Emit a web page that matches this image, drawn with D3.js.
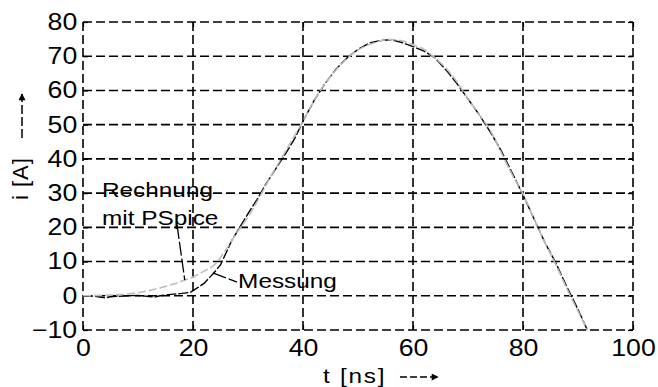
<!DOCTYPE html>
<html>
<head>
<meta charset="utf-8">
<script src="https://cdn.jsdelivr.net/npm/d3@7"></script>
<style>
    body { margin: 0; background: #fff; }
    svg { display: block; font-family: "Liberation Sans", Arial, sans-serif; }
</style>
</head>
<body>
<div id="graph"></div>
<script>
const xTicks = [0, 20, 40, 60, 80, 100];
const yTicks = [-10, 0, 10, 20, 30, 40, 50, 60, 70, 80];

// Rechnung mit PSpice: [t in ns, i in A]
const pspice = [
    [0, 0], [5, 0.2], [8, 0.5], [10, 0.9], [12, 1.5], [14, 2.3], [16, 3.2], [18, 4.3],
    [20, 5.5], [22, 7.2], [24, 9.2], [26, 13.5], [28, 18.5], [30, 23], [32, 28.5],
    [34, 34.5], [36, 40], [38, 45.5], [40, 51], [42, 57], [44, 62], [46, 66],
    [48, 69.3], [50, 71.8], [52, 73.4], [54, 74.4], [56, 74.9], [58, 74.5], [60, 73.4],
    [62, 72], [64, 69.5], [66, 66.5], [68, 62.5], [70, 57.5], [72, 53], [74, 48.5],
    [76, 42], [78, 35.5], [80, 29.8], [82, 22.5], [84, 15.5], [86, 9], [88, 2],
    [90, -4.5], [91.8, -10]
];

// Messung: [t in ns, i in A]
const messung = [
    [0, 0], [2, -0.1], [4, -0.6], [5, -0.3], [8, 0], [10, 0.1], [12, -0.2], [13, -0.4],
    [14, 0], [16, 0.4], [18, 0.7], [19.5, 1], [20.5, 2], [22, 3.6], [23.7, 6.5],
    [25, 9], [26, 12.5], [27, 16], [28.5, 20], [30, 24], [31.6, 28], [33, 32],
    [34.6, 36], [36, 39.5], [37, 42], [38.5, 46], [40, 51], [42, 57], [44, 62],
    [46, 66.2], [48, 69.5], [50, 72], [52, 73.8], [54, 74.6], [56, 74.8], [58, 74],
    [60, 72.8], [62, 71.5], [64, 69.5], [66, 66], [68, 62], [70, 57.5], [72, 53],
    [74, 48], [76, 42.5], [78, 36], [80, 29.5], [82, 22.5], [84, 15.5], [86, 9.5],
    [88, 2.5], [90, -4], [91.7, -10]
];

// labels and leader lines, anchored in data units
const labels = [
    { text: "Rechnung", t: 3.45, i: 28.9 },
    { text: "mit PSpice", t: 3.45, i: 20.7 },
    { text: "Messung", t: 28.2, i: 2.3 }
];
const leaders = [
    [[17.1, 20.7], [18.5, 4.6]],
    [[23.6, 6.7], [28, 4.0]]
];

const width = 658, height = 387;
const margin = { top: 22, right: 25, bottom: 57, left: 83 };
const stretch = 1.16; // the reference text is a bit wide

const svg = d3.select("#graph")
    .append("svg")
    .attr("width", width)
    .attr("height", height);

svg.append("defs").append("marker")
    .attr("id", "head")
    .attr("viewBox", "0 0 10 10")
    .attr("refX", 9).attr("refY", 5)
    .attr("markerWidth", 8).attr("markerHeight", 7)
    .attr("markerUnits", "userSpaceOnUse")
    .attr("orient", "auto")
    .append("path")
    .attr("d", "M0,0 L10,5 L0,10 Z")
    .attr("fill", "#000");

const x = d3.scaleLinear()
    .domain([0, 100])
    .range([margin.left, width - margin.right]);
const y = d3.scaleLinear()
    .domain([-10, 80])
    .range([height - margin.bottom, margin.top]);

// dashed grid, the outer frame is dashed too
const grid = svg.append("g")
    .attr("stroke", "#000")
    .attr("stroke-width", 1.6)
    .attr("stroke-dasharray", "9,4");
grid.selectAll(".vgrid")
    .data(xTicks)
    .enter().append("line")
    .attr("x1", d => x(d)).attr("x2", d => x(d))
    .attr("y1", y(-10)).attr("y2", y(80));
grid.selectAll(".hgrid")
    .data(yTicks)
    .enter().append("line")
    .attr("x1", x(0)).attr("x2", x(100))
    .attr("y1", d => y(d)).attr("y2", d => y(d));

// axes: small inward ticks, labels only on bottom and left
function styleAxis(g) {
    g.select(".domain").remove();
    g.selectAll(".tick line").attr("stroke", "#000").attr("stroke-width", 1.2);
    g.selectAll(".tick text")
        .attr("fill", "#000")
        .style("font-size", "23px")
        .attr("transform", `scale(${stretch},1)`);
}

svg.append("g")
    .attr("transform", `translate(0,${y(-10)})`)
    .call(d3.axisBottom(x).tickValues(xTicks).tickSize(-5).tickPadding(10))
    .call(styleAxis);
svg.append("g")
    .attr("transform", `translate(${x(0)},0)`)
    .call(d3.axisLeft(y).tickValues(yTicks).tickSize(-5).tickPadding(5))
    .call(styleAxis);
svg.append("g")
    .attr("transform", `translate(0,${y(80)})`)
    .call(d3.axisTop(x).tickValues(xTicks).tickSize(-5).tickFormat(""))
    .call(styleAxis);
svg.append("g")
    .attr("transform", `translate(${x(100)},0)`)
    .call(d3.axisRight(y).tickValues(yTicks).tickSize(-5).tickFormat(""))
    .call(styleAxis);

// curves
const line = d3.line()
    .x(d => x(d[0]))
    .y(d => y(d[1]));

svg.append("path")
    .attr("d", line(messung))
    .attr("fill", "none")
    .attr("stroke", "#000")
    .attr("stroke-width", 1.4)
    .attr("stroke-dasharray", "10,2");

svg.append("path")
    .attr("d", line.curve(d3.curveMonotoneX)(pspice))
    .attr("fill", "none")
    .attr("stroke", "#bdbdbd")
    .attr("stroke-width", 1.6)
    .attr("stroke-dasharray", "8,3");

// annotations
svg.selectAll(".leader")
    .data(leaders)
    .enter().append("line")
    .attr("x1", d => x(d[0][0])).attr("y1", d => y(d[0][1]))
    .attr("x2", d => x(d[1][0])).attr("y2", d => y(d[1][1]))
    .attr("stroke", "#000")
    .attr("stroke-width", 1.3)
    .attr("stroke-dasharray", "14,3");

svg.selectAll(".label")
    .data(labels)
    .enter().append("text")
    .attr("transform", d => `translate(${x(d.t)},${y(d.i)}) scale(${stretch},1)`)
    .style("font-size", "21px")
    .attr("fill", "#000")
    .text(d => d.text);

// axis titles with dashed arrows
svg.append("text")
    .attr("transform", `translate(323,383) scale(${stretch},1)`)
    .style("font-size", "21px")
    .style("letter-spacing", "1.5px")
    .text("t [ns]");
svg.append("line")
    .attr("x1", 400).attr("x2", 438)
    .attr("y1", 377).attr("y2", 377)
    .attr("stroke", "#000")
    .attr("stroke-width", 1.5)
    .attr("stroke-dasharray", "7,3")
    .attr("marker-end", "url(#head)");

svg.append("text")
    .attr("transform", "translate(28,200) rotate(-90)")
    .style("font-size", "22px")
    .style("letter-spacing", "1px")
    .text("i [A]");
svg.append("line")
    .attr("x1", 22).attr("x2", 22)
    .attr("y1", 138).attr("y2", 94)
    .attr("stroke", "#000")
    .attr("stroke-width", 1.5)
    .attr("stroke-dasharray", "9,3")
    .attr("marker-end", "url(#head)");
</script>
</body>
</html>
